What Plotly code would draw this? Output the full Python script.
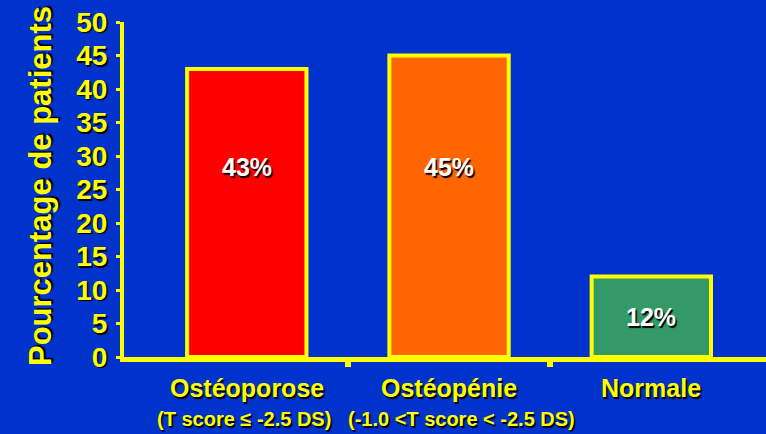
import plotly.graph_objects as go

# Bone density status of patients (percent)
categories = ["Ostéoporose", "Ostéopénie", "Normale"]
criteria = ["(T score ≤ -2.5 DS)", "(-1.0 <T score < -2.5 DS)", ""]
percentages = [43, 45, 12]
y_ticks = [0, 5, 10, 15, 20, 25, 30, 35, 40, 45, 50]

BG = "#0033CC"
YELLOW = "#FFFF00"
BAR_COLORS = ["#FF0000", "#FF6600", "#339966"]
FONT = "Liberation Sans, Arial, sans-serif"
SHADOW = "1.5px 1.5px 1px #000000"
X_RANGE = [-0.607, 2.567]
LABEL_LEVEL = 28.3  # height of the value labels on tall bars
CRITERIA_SHIFT = [-3, 12, 0]  # horizontal nudge (px) of the second label line

fig = go.Figure()
fig.add_trace(go.Bar(
    x=categories,
    y=percentages,
    marker=dict(color=BAR_COLORS, line=dict(color=YELLOW, width=4)),
    width=0.59,
    hoverinfo="skip",
))

# value labels inside the bars
for cat, v in zip(categories, percentages):
    ly = LABEL_LEVEL if v > LABEL_LEVEL + 5 else v / 2
    fig.add_annotation(
        x=cat, y=ly, xref="x", yref="y", text=f"{v}%", showarrow=False,
        xanchor="center", yanchor="middle",
        font=dict(family=FONT, size=25, color="white", weight="bold", shadow=SHADOW),
    )

# two-line category labels under the axis
for cat, crit, dx in zip(categories, criteria, CRITERIA_SHIFT):
    fig.add_annotation(
        x=cat, y=-0.092, xref="x", yref="paper", text=cat, showarrow=False,
        xanchor="center", yanchor="middle",
        font=dict(family=FONT, size=25, color=YELLOW, weight="bold", shadow=SHADOW),
    )
    if crit:
        fig.add_annotation(
            x=cat, y=-0.184, xref="x", yref="paper", text=crit, showarrow=False,
            xanchor="center", yanchor="middle", xshift=dx,
            font=dict(family=FONT, size=20, color=YELLOW, weight="bold", shadow=SHADOW),
        )

# y-axis title
fig.add_annotation(
    x=-0.129, y=0.511, xref="paper", yref="paper", text="Pourcentage de patients",
    showarrow=False, textangle=-90, xanchor="center", yanchor="middle",
    font=dict(family=FONT, size=31, color=YELLOW, weight="bold", shadow=SHADOW),
)

# invisible trace on a linear overlay axis carrying the boundary tick marks
boundaries = [i + 0.5 for i in range(len(categories) - 1)]
fig.add_trace(go.Scatter(x=boundaries, y=[None] * len(boundaries), xaxis="x2",
                         mode="markers", showlegend=False, hoverinfo="skip"))

fig.update_layout(
    width=766, height=434,
    margin=dict(l=124, r=0, t=21.5, b=77, pad=0),
    paper_bgcolor=BG, plot_bgcolor=BG,
    showlegend=False,
    xaxis=dict(
        type="category", range=X_RANGE, showgrid=False, zeroline=False,
        showline=True, linecolor=YELLOW, linewidth=5,
        ticks="", showticklabels=False, fixedrange=True,
    ),
    xaxis2=dict(
        type="linear", overlaying="x", anchor="y", side="bottom", range=X_RANGE,
        tickmode="array", tickvals=boundaries, ticks="outside", ticklen=9,
        tickwidth=6, tickcolor=YELLOW, showticklabels=False, showgrid=False,
        zeroline=False, showline=False,
    ),
    yaxis=dict(
        range=[0, 50], tickmode="array", tickvals=y_ticks,
        ticktext=[str(t) for t in y_ticks],
        showgrid=False, zeroline=False,
        showline=True, linecolor=YELLOW, linewidth=4,
        ticks="outside", ticklen=4, tickwidth=3, tickcolor=YELLOW,
        tickfont=dict(family=FONT, size=28, color=YELLOW, weight="bold", shadow=SHADOW),
        ticklabelstandoff=3,
    ),
)

fig.write_html("out.html")
